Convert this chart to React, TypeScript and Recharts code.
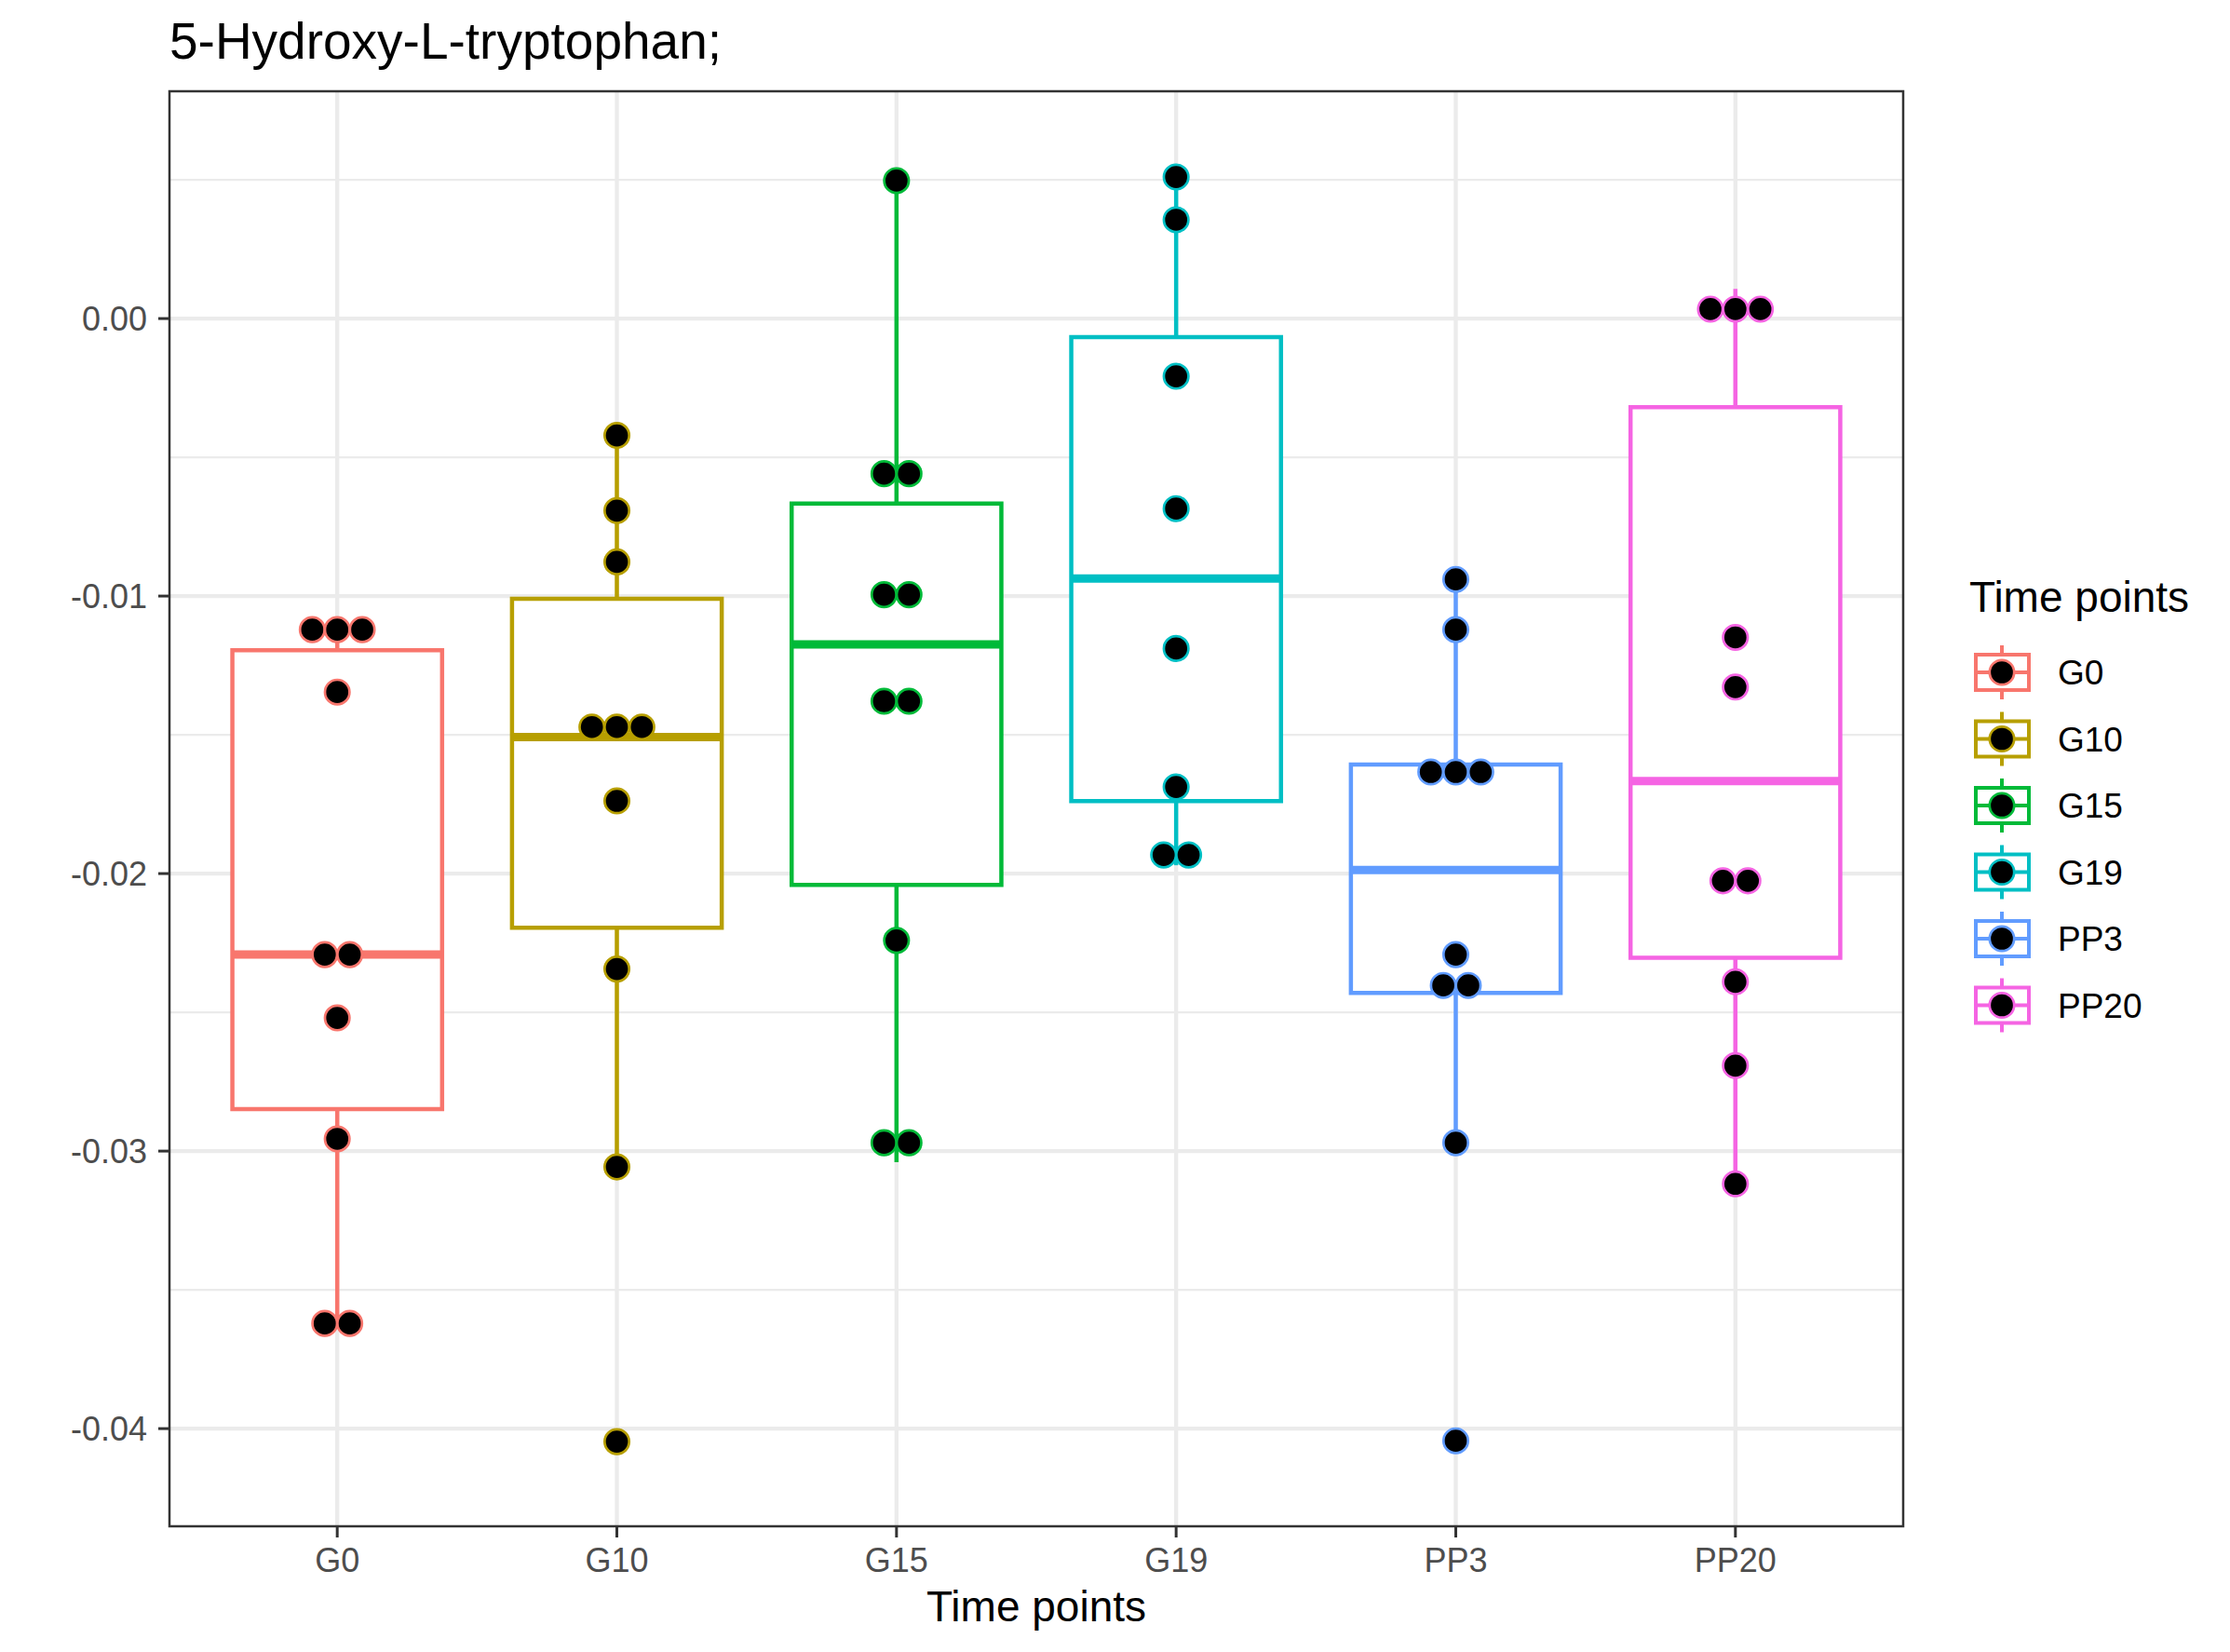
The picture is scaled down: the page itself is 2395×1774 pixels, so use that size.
import React from 'react';
import { ComposedChart, Scatter, XAxis, YAxis, CartesianGrid, ReferenceArea, ReferenceLine } from 'recharts';

const categories = ['G0', 'G10', 'G15', 'G19', 'PP3', 'PP20'];
const colors = ['#F8766D', '#B79F00', '#00BA38', '#00BFC4', '#619CFF', '#F564E3'];

// dot values per group (repeats = dots stacked side by side)
const g0Values = [-0.01121, -0.01121, -0.01121, -0.01346, -0.02292, -0.02292, -0.0252, -0.02956, -0.03621, -0.03621];
const g10Values = [-0.00421, -0.00692, -0.00877, -0.01472, -0.01472, -0.01472, -0.01738, -0.02344, -0.03057, -0.04047];
const g15Values = [0.00497, -0.00559, -0.00559, -0.00995, -0.00995, -0.01379, -0.01379, -0.02241, -0.0297, -0.0297];
const g19Values = [0.0051, 0.00356, -0.00208, -0.00685, -0.01189, -0.01688, -0.01933, -0.01933];
const pp3Values = [-0.0094, -0.01121, -0.01634, -0.01634, -0.01634, -0.02292, -0.02403, -0.02403, -0.0297, -0.04044];
const pp20Values = [0.00034, 0.00034, 0.00034, -0.01149, -0.01328, -0.02026, -0.02026, -0.0239, -0.02692, -0.03118];
const groupValues = [g0Values, g10Values, g15Values, g19Values, pp3Values, pp20Values];

// box statistics
const whiskerLow = [-0.0362, -0.0306, -0.0304, -0.0197, -0.0297, -0.0312];
const boxQ1 = [-0.02849, -0.02195, -0.02041, -0.01739, -0.0243, -0.02303];
const boxMedian = [-0.02292, -0.01508, -0.01174, -0.00937, -0.01987, -0.01667];
const boxQ3 = [-0.01195, -0.0101, -0.00667, -0.00067, -0.01607, -0.00319];
const whiskerHigh = [-0.0112, -0.0042, 0.005, 0.0051, -0.0094, 0.00107];

const yTicks = [-0.04, -0.03, -0.02, -0.01, 0];
const yMinor = [-0.035, -0.025, -0.015, -0.005, 0.005];
const xTicks = [0, 1, 2, 3, 4, 5];

const FONT = '"Liberation Sans", Arial, Helvetica, sans-serif';
const Y_DOMAIN: [number, number] = [-0.04352, 0.00819];
const X_DOMAIN: [number, number] = [-0.6, 5.6];
const HALF_BOX = 0.375;
const DOT_STEP = 0.0893;
const DOT_R = 13.2;

function dotsFor(values: number[], i: number) {
  const groups = new Map<number, number>();
  values.forEach((v) => groups.set(v, (groups.get(v) || 0) + 1));
  const out: { x: number; y: number }[] = [];
  groups.forEach((n, v) => {
    for (let k = 0; k < n; k++) out.push({ x: i + (k - (n - 1) / 2) * DOT_STEP, y: v });
  });
  return out;
}

const Legend = () => (
  <g>
    <text x={2115} y={657} fontSize={46} fontFamily={FONT} fill="#000">Time points</text>
    {categories.map((c, i) => {
      const cy = 722 + i * 71.5;
      const col = colors[i];
      return (
        <g key={c}>
          <line x1={2150} x2={2150} y1={cy - 29} y2={cy + 29} stroke={col} strokeWidth={4} />
          <rect x={2122} y={cy - 19} width={57} height={38} fill="#fff" stroke={col} strokeWidth={4} />
          <line x1={2122} x2={2179} y1={cy} y2={cy} stroke={col} strokeWidth={4} />
          <circle cx={2150} cy={cy} r={DOT_R} fill="#000" stroke={col} strokeWidth={2.7} />
          <text x={2210} y={cy} dy="0.36em" fontSize={37} fontFamily={FONT} fill="#000">{c}</text>
        </g>
      );
    })}
  </g>
);

export default function App() {
  return (
    <div style={{ position: 'absolute', left: 0, top: 0, width: 2395, height: 1774, background: '#fff' }}>
      <ComposedChart width={2395} height={1774} margin={{ top: 98, right: 351, bottom: 0, left: 0 }}>
        <CartesianGrid vertical={false} horizontalValues={yMinor} stroke="#EBEBEB" strokeWidth={2.2} />
        <CartesianGrid horizontalValues={yTicks} verticalValues={xTicks} stroke="#EBEBEB" strokeWidth={4.3} />
        <XAxis
          type="number"
          dataKey="x"
          domain={X_DOMAIN}
          ticks={xTicks}
          interval={0}
          allowDataOverflow
          height={135}
          tickSize={12}
          tickMargin={11}
          axisLine={false}
          tickLine={{ stroke: '#333333', strokeWidth: 3 }}
          tick={{ fontSize: 36, fill: '#4D4D4D', fontFamily: FONT }}
          tickFormatter={(v: number) => categories[Math.round(v)]}
          label={{ value: 'Time points', position: 'insideBottom', offset: 33, fontSize: 46, fill: '#000', fontFamily: FONT }}
        />
        <YAxis
          type="number"
          dataKey="y"
          domain={Y_DOMAIN}
          ticks={yTicks}
          interval={0}
          allowDataOverflow
          width={182}
          tickSize={12}
          tickMargin={12}
          axisLine={false}
          tickLine={{ stroke: '#333333', strokeWidth: 3 }}
          tick={{ fontSize: 36, fill: '#4D4D4D', fontFamily: FONT }}
          tickFormatter={(v: number) => (Math.abs(v) < 1e-9 ? '0.00' : v.toFixed(2))}
        />
        {categories.map((c, i) => (
          <ReferenceLine
            key={`wh-${c}`}
            segment={[{ x: i, y: boxQ3[i] }, { x: i, y: whiskerHigh[i] }]}
            stroke={colors[i]}
            strokeWidth={4.5}
          />
        ))}
        {categories.map((c, i) => (
          <ReferenceLine
            key={`wl-${c}`}
            segment={[{ x: i, y: boxQ1[i] }, { x: i, y: whiskerLow[i] }]}
            stroke={colors[i]}
            strokeWidth={4.5}
          />
        ))}
        {categories.map((c, i) => (
          <ReferenceArea
            key={`box-${c}`}
            x1={i - HALF_BOX}
            x2={i + HALF_BOX}
            y1={boxQ1[i]}
            y2={boxQ3[i]}
            fill="#fff"
            fillOpacity={1}
            stroke={colors[i]}
            strokeWidth={4.5}
          />
        ))}
        {categories.map((c, i) => (
          <ReferenceLine
            key={`med-${c}`}
            segment={[{ x: i - HALF_BOX, y: boxMedian[i] }, { x: i + HALF_BOX, y: boxMedian[i] }]}
            stroke={colors[i]}
            strokeWidth={9}
          />
        ))}
        <ReferenceArea x1={X_DOMAIN[0]} x2={X_DOMAIN[1]} y1={Y_DOMAIN[0]} y2={Y_DOMAIN[1]} fill="none" stroke="#333333" strokeWidth={2.5} />
        {categories.map((c, i) => (
          <Scatter
            key={`pts-${c}`}
            name={c}
            data={dotsFor(groupValues[i], i)}
            isAnimationActive={false}
            shape={(p: any) => <circle cx={p.cx} cy={p.cy} r={DOT_R} fill="#000" stroke={colors[i]} strokeWidth={2.7} />}
          />
        ))}
      </ComposedChart>
      <svg width={2395} height={1774} style={{ position: 'absolute', left: 0, top: 0, pointerEvents: 'none' }}>
        <text x={182} y={63} fontSize={55} fontFamily={FONT} fill="#000">5-Hydroxy-L-tryptophan;</text>
        <Legend />
      </svg>
    </div>
  );
}
